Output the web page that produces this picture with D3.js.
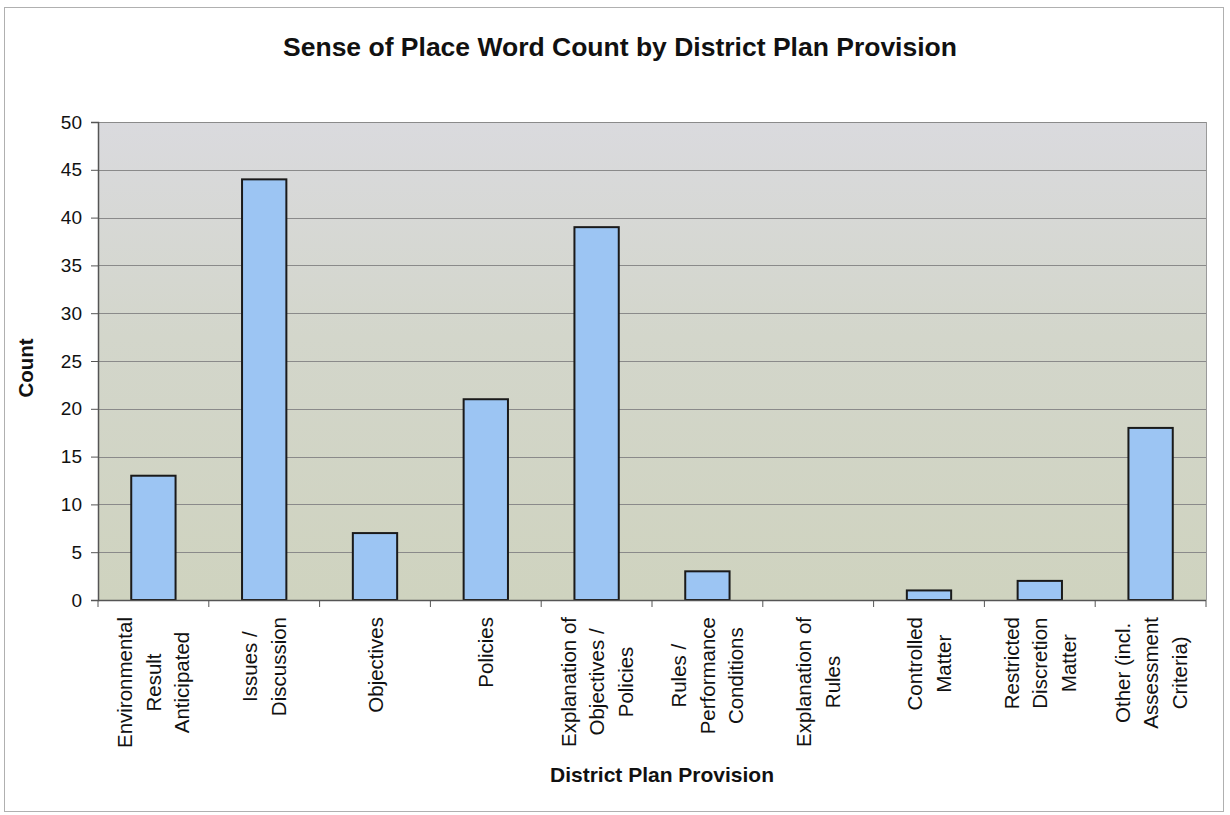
<!DOCTYPE html>
<html>
<head>
<meta charset="utf-8">
<script src="https://cdn.jsdelivr.net/npm/d3@7"></script>
<style>
  body { margin: 0; background: #fff; }
  text { font-family: "Liberation Sans", Arial, sans-serif; fill: #111; }
</style>
</head>
<body>
<svg id="chart" width="1230" height="815"></svg>
<script>
// chart data
const categories = [
    ["Environmental", "Result", "Anticipated"],
    ["Issues /", "Discussion"],
    ["Objectives"],
    ["Policies"],
    ["Explanation of", "Objectives /", "Policies"],
    ["Rules /", "Performance", "Conditions"],
    ["Explanation of", "Rules"],
    ["Controlled", "Matter"],
    ["Restricted", "Discretion", "Matter"],
    ["Other (incl.", "Assessment", "Criteria)"]
];
const counts = [13, 44, 7, 21, 39, 3, 0, 1, 2, 18];
const yTicks = [0, 5, 10, 15, 20, 25, 30, 35, 40, 45, 50];

const svg = d3.select('#chart');
const plot = { left: 98, top: 122, right: 1206, bottom: 600 };

// outer frame
svg.append('rect')
    .attr('x', 4.5).attr('y', 7.5)
    .attr('width', 1219).attr('height', 804)
    .attr('fill', '#fff')
    .attr('stroke', '#b0b0b0');

// plot background gradient
const grad = svg.append('defs').append('linearGradient')
    .attr('id', 'bg').attr('x1', 0).attr('y1', 0).attr('x2', 0).attr('y2', 1);
grad.append('stop').attr('offset', '0%').attr('stop-color', '#dadade');
grad.append('stop').attr('offset', '45%').attr('stop-color', '#d3d6cb');
grad.append('stop').attr('offset', '100%').attr('stop-color', '#cfd3bf');

const x = d3.scaleBand()
    .domain(d3.range(categories.length))
    .range([plot.left, plot.right])
    .paddingInner(0.6)
    .paddingOuter(0.3);

const y = d3.scaleLinear()
    .domain([0, 50])
    .range([plot.bottom, plot.top]);

svg.append('rect')
    .attr('x', plot.left).attr('y', plot.top)
    .attr('width', plot.right - plot.left).attr('height', plot.bottom - plot.top)
    .attr('fill', 'url(#bg)');

// gridlines
svg.append('g')
    .selectAll('line')
    .data(yTicks)
    .enter().append('line')
    .attr('x1', plot.left).attr('x2', plot.right)
    .attr('y1', d => Math.round(y(d)) + 0.5)
    .attr('y2', d => Math.round(y(d)) + 0.5)
    .attr('stroke', '#8a8a8a')
    .attr('stroke-width', 1);

// plot border (right side)
svg.append('line')
    .attr('x1', plot.right + 0.5).attr('x2', plot.right + 0.5)
    .attr('y1', plot.top).attr('y2', plot.bottom)
    .attr('stroke', '#9a9a9a');

// bars
svg.append('g')
    .selectAll('rect')
    .data(counts)
    .enter().append('rect')
    .attr('x', (d, i) => x(i))
    .attr('y', d => y(d))
    .attr('width', x.bandwidth())
    .attr('height', d => y(0) - y(d))
    .attr('fill', '#9cc5f3')
    .attr('stroke', '#1a1a1a')
    .attr('stroke-width', 2);

// y axis
const yAxis = svg.append('g')
    .attr('transform', `translate(${plot.left},0)`)
    .call(d3.axisLeft(y).tickValues(yTicks).tickSize(7).tickPadding(9));
yAxis.select('.domain').attr('stroke', '#555').attr('stroke-width', 1.5);
yAxis.selectAll('.tick line').attr('stroke', '#555');
yAxis.selectAll('.tick text')
    .style('font-family', '"Liberation Sans", Arial, sans-serif')
    .style('font-size', '19px')
    .attr('fill', '#222');

// x axis with ticks at category boundaries
const step = (plot.right - plot.left) / categories.length;
const xAxis = svg.append('g');
xAxis.append('line')
    .attr('x1', plot.left).attr('x2', plot.right)
    .attr('y1', plot.bottom + 0.5).attr('y2', plot.bottom + 0.5)
    .attr('stroke', '#555').attr('stroke-width', 1.5);
xAxis.selectAll('.xtick')
    .data(d3.range(categories.length + 1))
    .enter().append('line')
    .attr('x1', d => plot.left + d * step).attr('x2', d => plot.left + d * step)
    .attr('y1', plot.bottom).attr('y2', plot.bottom + 7)
    .attr('stroke', '#555');

// rotated category labels, lines centred, longest line starting near the axis
const lineGap = 28.5;
const labelTop = 617;
categories.forEach((lines, i) => {
    const cx = x(i) + x.bandwidth() / 2;
    const g = svg.append('g');
    const texts = lines.map((s, j) => g.append('text')
        .text(s)
        .style('font-size', '20.5px')
        .attr('text-anchor', 'middle')
        .attr('dominant-baseline', 'central'));
    const maxW = d3.max(texts, t => t.node().getComputedTextLength());
    const cy = labelTop + maxW / 2;
    texts.forEach((t, j) => {
        const lx = cx + (j - (lines.length - 1) / 2) * lineGap;
        t.attr('transform', `translate(${lx},${cy}) rotate(-90)`);
    });
});

// titles
svg.append('text')
    .attr('x', 620).attr('y', 56)
    .attr('text-anchor', 'middle')
    .style('font-size', '26.5px')
    .style('font-weight', 'bold')
    .text('Sense of Place Word Count by District Plan Provision');

svg.append('text')
    .attr('transform', 'translate(33,368) rotate(-90)')
    .attr('text-anchor', 'middle')
    .style('font-size', '20.5px')
    .style('font-weight', 'bold')
    .text('Count');

svg.append('text')
    .attr('x', 662).attr('y', 782)
    .attr('text-anchor', 'middle')
    .style('font-size', '21px')
    .style('font-weight', 'bold')
    .text('District Plan Provision');
</script>
</body>
</html>
